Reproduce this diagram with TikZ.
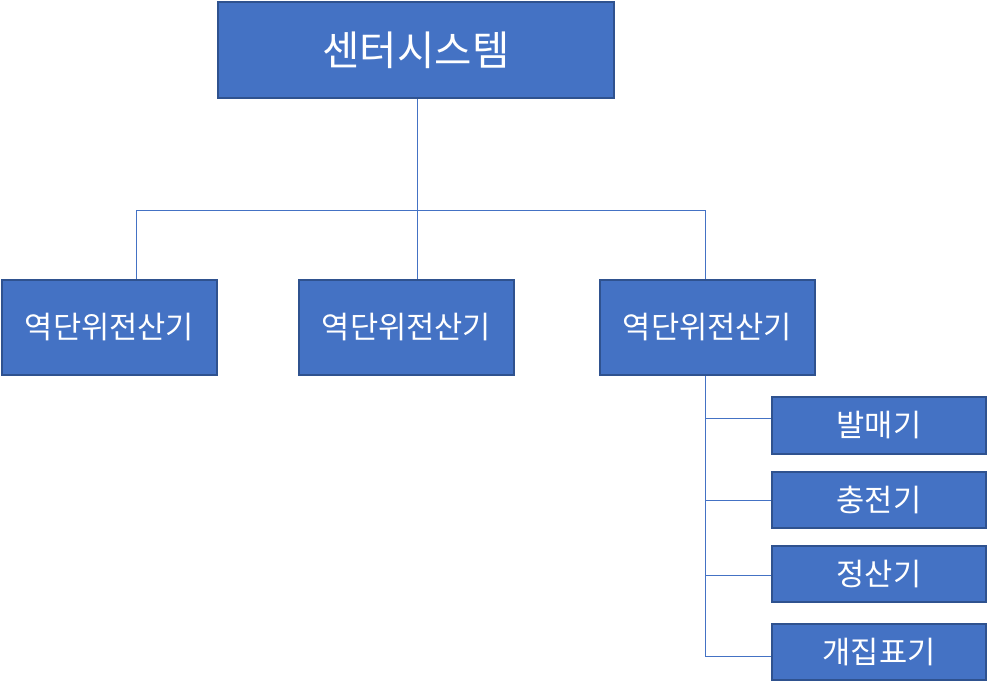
\documentclass[tikz,border=0pt]{standalone}
\usepackage{fontspec}
\newfontfamily\kr{Noto Sans CJK KR}
\definecolor{boxfill}{HTML}{4472C4}
\definecolor{boxline}{HTML}{2F528F}
\definecolor{connline}{HTML}{4472C4}
\begin{document}
\begin{tikzpicture}[x=0.75pt,y=-0.75pt,
  box/.style={draw=boxline,fill=boxfill,line width=1.6pt,inner sep=0pt,text=white,font=\kr\fontsize{23}{27}\selectfont,minimum width=161.25pt,minimum height=71.25pt},
  topbox/.style={box,minimum width=297pt,minimum height=72pt,font=\kr\fontsize{30.5}{36}\selectfont},
  child/.style={box,minimum width=160.5pt,minimum height=42pt},
  conn/.style={draw=connline,line width=0.75pt}]
\useasboundingbox (0,0) rectangle (988,688);
\node[topbox] (top) at (416,50) {센터시스템};
\node[box] (l) at (109.5,327.5) {역단위전산기};
\node[box] (m) at (406.5,327.5) {역단위전산기};
\node[box] (r) at (707.5,327.5) {역단위전산기};
\node[child,minimum height=42.75pt] (c1) at (879,425.5) {발매기};
\node[child] (c2) at (879,500) {충전기};
\node[child] (c3) at (879,574) {정산기};
\node[child] (c4) at (879,652) {개집표기};
\coordinate (jl) at (136,210);
\coordinate (jm) at (417,210);
\coordinate (jr) at (705,210);
\draw[conn] (top.south -| jm) -- (jm);
\draw[conn] (jl) -- (jr);
\draw[conn] (jl) -- (jl |- l.north);
\draw[conn] (jm) -- (jm |- m.north);
\draw[conn] (jr) -- (jr |- r.north);
\coordinate (b1) at (705,418);
\coordinate (b2) at (705,500);
\coordinate (b3) at (705,575);
\coordinate (b4) at (705,656);
\draw[conn] (b1 |- r.south) -- (b4);
\draw[conn] (b1) -- (b1 -| c1.west);
\draw[conn] (b2) -- (b2 -| c2.west);
\draw[conn] (b3) -- (b3 -| c3.west);
\draw[conn] (b4) -- (b4 -| c4.west);
\end{tikzpicture}
\end{document}
